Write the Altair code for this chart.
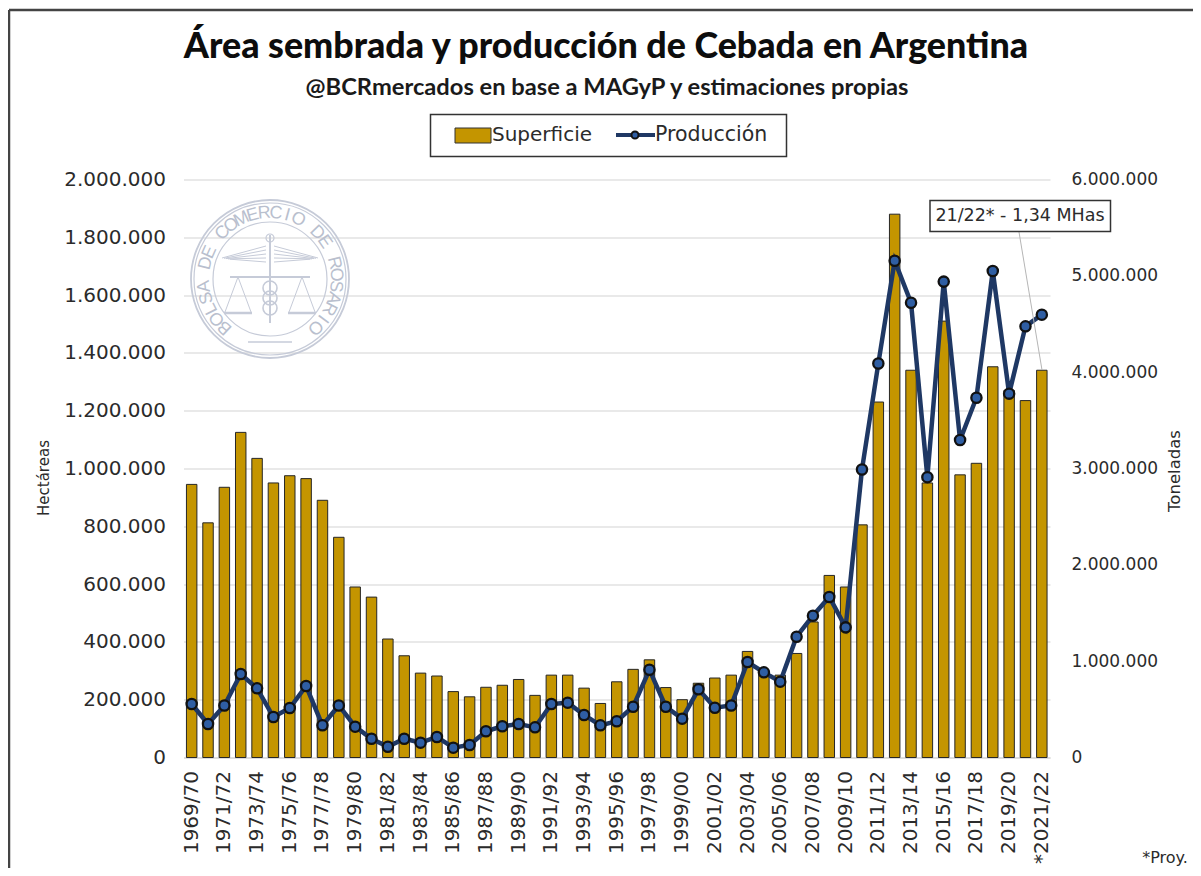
import math
import altair as alt
import pandas as pd

campanias = ["1969/70","1970/71","1971/72","1972/73","1973/74","1974/75","1975/76","1976/77","1977/78","1978/79",
"1979/80","1980/81","1981/82","1982/83","1983/84","1984/85","1985/86","1986/87","1987/88","1988/89",
"1989/90","1990/91","1991/92","1992/93","1993/94","1994/95","1995/96","1996/97","1997/98","1998/99",
"1999/00","2000/01","2001/02","2002/03","2003/04","2004/05","2005/06","2006/07","2007/08","2008/09",
"2009/10","2010/11","2011/12","2012/13","2013/14","2014/15","2015/16","2016/17","2017/18","2018/19",
"2019/20","2020/21","*2021/22"]
superficie = [945000,812000,935000,1125000,1035000,950000,975000,965000,890000,762000,
590000,555000,410000,352000,292000,282000,228000,210000,243000,250000,
270000,215000,285000,285000,240000,187000,262000,305000,338000,242000,
200000,257000,275000,285000,367000,300000,285000,360000,469000,630000,
590000,805000,1230000,1880000,1340000,950000,1510000,978000,1018000,1352000,
1270000,1235000,1340000]
produccion = [555000,348000,540000,867000,718000,420000,514000,742000,334000,540000,
320000,195000,112000,195000,154000,213000,102000,130000,272000,324000,
348000,313000,555000,569000,441000,334000,376000,527000,911000,527000,
403000,708000,517000,540000,991000,884000,787000,1254000,1472000,1666000,
1351000,2990000,4090000,5157000,4720000,2910000,4940000,3296000,3735000,5050000,
3777000,4476000,4597000]
ticks_x = campanias[0::2]
ticks_ha = [0,200000,400000,600000,800000,1000000,1200000,1400000,1600000,1800000,2000000]
ticks_tn = [0,1000000,2000000,3000000,4000000,5000000,6000000]
sello = "BOLSA DE COMERCIO DE ROSARIO"

df = pd.DataFrame({"c": campanias, "sup": superficie, "prod": produccion})

OX, OY = 183.5, 179.5      # plot origin on the page
W, H = 866.5, 578
FONT = "DejaVu Sans"
INK = "#2b2b2b"
LOGO = "#c6cbd8"
GOLD = "#c49500"
num = "replace(format(datum.value, ','), /,/g, '.')"

def px(v): return alt.value(v - OX)
def py(v): return alt.value(v - OY)

def text(s, x, y, size, font=FONT, weight="normal", color=INK, align="center", angle=0):
    return alt.Chart(df.head(1)).mark_text(text=s, font=font, fontSize=size, fontWeight=weight, color=color,
                              align=align, baseline="middle", angle=angle).encode(x=px(x), y=py(y))

def seg(x1, y1, x2, y2, color=LOGO, w=1.0):
    return alt.Chart(df.head(1)).mark_rule(color=color, strokeWidth=w).encode(x=px(x1), x2=px(x2), y=py(y1), y2=py(y2))

def rect(x1, y1, x2, y2, fill, stroke, w=1.0):
    return alt.Chart(df.head(1)).mark_rect(fill=fill, stroke=stroke, strokeWidth=w).encode(x=px(x1), x2=px(x2), y=py(y1), y2=py(y2))

def ring(x, y, r, color=LOGO, w=1.2):
    return alt.Chart(df.head(1)).mark_point(shape="circle", filled=False, size=(2 * r) ** 2, color=color, strokeWidth=w, opacity=1).encode(x=px(x), y=py(y))

x_enc = alt.X("c:N", sort=campanias, scale=alt.Scale(domain=campanias, paddingInner=0.36, paddingOuter=0.18),
              axis=alt.Axis(title=None, values=ticks_x, labelAngle=270, labelAlign="right", labelBaseline="middle",
                            labelFont=FONT, labelFontSize=20, labelColor=INK, labelPadding=13, ticks=False,
                            domainColor="#d9d9d9", domainWidth=1.5, labelOverlap=False, grid=False))

bars = alt.Chart(df).mark_bar(fill=GOLD, stroke="#262626", strokeWidth=1).encode(
    x=x_enc,
    y=alt.Y("sup:Q", scale=alt.Scale(domain=[0, 2000000], nice=False),
            axis=alt.Axis(title="Hectáreas", values=ticks_ha, orient="left", labelExpr=num, labelFont=FONT, labelFontSize=20,
                          labelColor=INK, labelPadding=18, ticks=False, domain=False, grid=True, gridColor="#e2e2e2",
                          gridWidth=1.6, titleFont=FONT, titleFontSize=15, titleFontWeight="normal", titleColor=INK,
                          titleX=-132, titleY=298, titleAngle=270)),
)
y_r = alt.Y("prod:Q", scale=alt.Scale(domain=[0, 6000000], nice=False),
            axis=alt.Axis(title="Toneladas", values=ticks_tn, orient="right", labelExpr=num, labelFont=FONT, labelFontSize=17,
                          labelColor=INK, labelPadding=21, ticks=False, domain=False, grid=False, titleFont=FONT,
                          titleFontSize=16.5, titleFontWeight="normal", titleColor=INK, titleX=132, titleY=291, titleAngle=270))
y_r2 = alt.Y("prod:Q", scale=alt.Scale(domain=[0, 6000000], nice=False), axis=None)
line = alt.Chart(df).mark_line(color="#1f3864", strokeWidth=4.5).encode(x=x_enc, y=y_r)
pts = alt.Chart(df).mark_point(shape="circle", filled=True, fill="#2f5ea3", stroke="#111111", strokeWidth=2.3,
                               size=105, opacity=1).encode(x=x_enc, y=y_r2)

# watermark seal
CX, CY = 270, 279
logo = [ring(CX, CY, 79, w=1.8), ring(CX, CY, 76), ring(CX, CY, 57)]
n = len(sello)
for i, ch in enumerate(sello):
    a = -137 + 274 * i / (n - 1)
    r = 66
    logo.append(text(ch, CX + r * math.sin(math.radians(a)), CY - r * math.cos(math.radians(a)), 18,
                     font="Liberation Sans", color="#b9bfce", angle=a % 360))
logo += [seg(270, 235, 270, 323, w=2), ring(270, 238, 4), seg(230, 277, 310, 277, w=2)]
for k in range(5):          # wings
    logo += [seg(222 + k * 2, 258 + k * 0.3, 266, 246 + k * 4), seg(318 - k * 2, 258 + k * 0.3, 274, 246 + k * 4)]
for sx in (238, 302):       # scales
    logo += [seg(sx, 277, sx - 13, 312), seg(sx, 277, sx + 13, 312), seg(sx - 14, 313, sx + 14, 313, w=2.5)]
for sy in (288, 298, 308):  # serpents
    logo.append(ring(270, sy, 7, w=1.6))
logo.append(seg(248, 342, 292, 342, w=1.5))

deco = [
    seg(9, 10, 1201, 10, color="#444444", w=2.5),
    seg(9, 10, 9, 876, color="#444444", w=2.5),
    text("Área sembrada y producción de Cebada en Argentina", 606, 47, 35.8, font="Lato", weight=900, color="#0d0d0d"),
    text("@BCRmercados  en base a MAGyP y estimaciones propias", 607, 88, 23.7, font="Lato", weight="bold", color="#1a1a1a"),
    rect(430.5, 114.5, 786.5, 156.5, "white", "#333333", 1.5),
    rect(455, 128, 491, 143, GOLD, "#333333", 1),
    text("Superficie", 492, 135, 20, align="left"),
    seg(616, 135, 655, 135, color="#1f3864", w=4),
    alt.Chart(df.head(1)).mark_point(shape="circle", filled=True, fill="#2f5ea3", stroke="#111111", strokeWidth=2, size=50, opacity=1).encode(x=px(635), y=py(135)),
    text("Producción", 655, 135, 20.5, align="left"),
]
callout = [
    seg(1019, 232, 1042, 370, color="#b5b5b5", w=1),
    rect(930, 200.5, 1110.5, 231.5, "white", "#333333", 1.5),
    text("21/22* - 1,34 MHas", 1020, 216, 17.5),
    text("*Proy.", 1165, 858, 16),
]

chart = alt.layer(*deco, *logo, bars, line, pts, *callout).resolve_scale(y="independent").resolve_axis(y="independent").properties(
    width=W, height=H,
    autosize=alt.AutoSizeParams(type="none"),
    padding={"left": OX - 8, "top": OY - 8, "right": 143, "bottom": 110},
    background="white",
).configure_view(stroke=None)

chart.save("out.html", embed_options={"renderer": "svg", "actions": False})
